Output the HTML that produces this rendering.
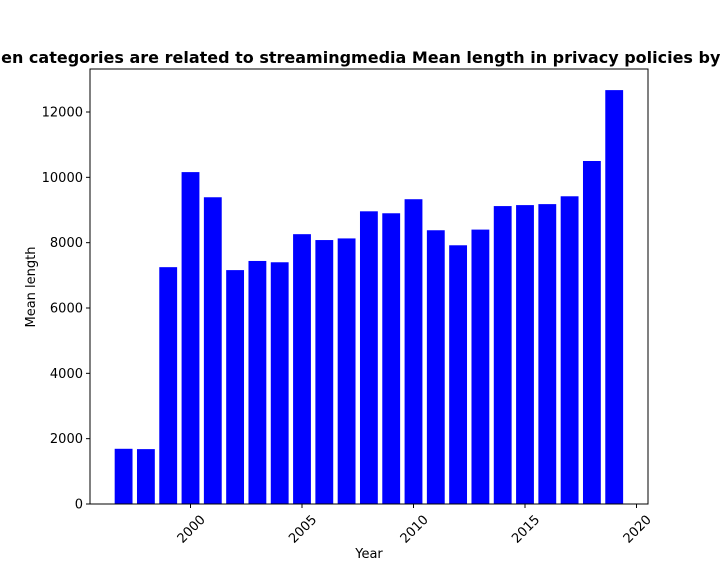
<!DOCTYPE html>
<html><head><meta charset="utf-8"><style>
html,body{margin:0;padding:0;background:#fff;overflow:hidden;width:720px;height:576px}
svg{font-family:"Liberation Sans","DejaVu Sans",sans-serif}
</style></head><body>
<svg id="chart" width="720" height="576" viewBox="0 0 720 576" xmlns="http://www.w3.org/2000/svg">
<rect width="720" height="576" fill="#fff"/>
<text x="369" y="63" text-anchor="middle" font-size="16" font-weight="bold" font-family="DejaVu Sans, sans-serif">When categories are related to streamingmedia Mean length in privacy policies by year</text>
<g id="bars"></g>
<g id="axes"></g>
<text x="369" y="558" text-anchor="middle" font-size="13" font-family="DejaVu Sans, sans-serif">Year</text>
<text transform="translate(35,287) rotate(-90)" text-anchor="middle" font-size="13" font-family="DejaVu Sans, sans-serif">Mean length</text>
</svg>
<script>
const years=[1997,1998,1999,2000,2001,2002,2003,2004,2005,2006,2007,2008,2009,2010,2011,2012,2013,2014,2015,2016,2017,2018,2019];
const values=[1690,1680,7250,10160,9390,7160,7440,7400,8260,8080,8130,8960,8900,9330,8380,7920,8400,9120,9150,9180,9420,10500,12670];
const xTicks=[2000,2005,2010,2015,2020];
const yTicks=[0,2000,4000,6000,8000,10000,12000];
const L=90,R=648,T=69,B=504;
const x=v=>190.5+(v-2000)*22.3;
const y=v=>B-v*392/12000;
const NS="http://www.w3.org/2000/svg";
const bars=document.getElementById('bars'),axes=document.getElementById('axes');
function mk(tag,attrs,parent){const e=document.createElementNS(NS,tag);for(const k in attrs)e.setAttribute(k,attrs[k]);parent.appendChild(e);return e;}
const bw=22.3*0.8;
years.forEach((yr,i)=>{const r=mk('rect',{x:x(yr)-bw/2,y:y(values[i]),width:bw,height:B-y(values[i]),fill:'#0000ff'},bars);

});
const frame=mk('rect',{x:L,y:T,width:R-L,height:B-T,fill:'none',stroke:'#000','stroke-width':1},axes);


yTicks.forEach(v=>{mk('line',{x1:L-4,x2:L,y1:y(v),y2:y(v),stroke:'#000'},axes);
const t=mk('text',{x:L-7,y:y(v)+4.5,'text-anchor':'end','font-size':13,'font-family':'DejaVu Sans, sans-serif'},axes);t.textContent=v;

});
xTicks.forEach(v=>{mk('line',{x1:x(v),x2:x(v),y1:B,y2:B+4,stroke:'#000'},axes);
const t=mk('text',{transform:`translate(${x(v)+8},${B+9}) rotate(-45)`,'text-anchor':'end','font-size':13,'font-family':'DejaVu Sans, sans-serif',dy:'0.8em'},axes);t.textContent=v;

});
</script>
</body></html>
